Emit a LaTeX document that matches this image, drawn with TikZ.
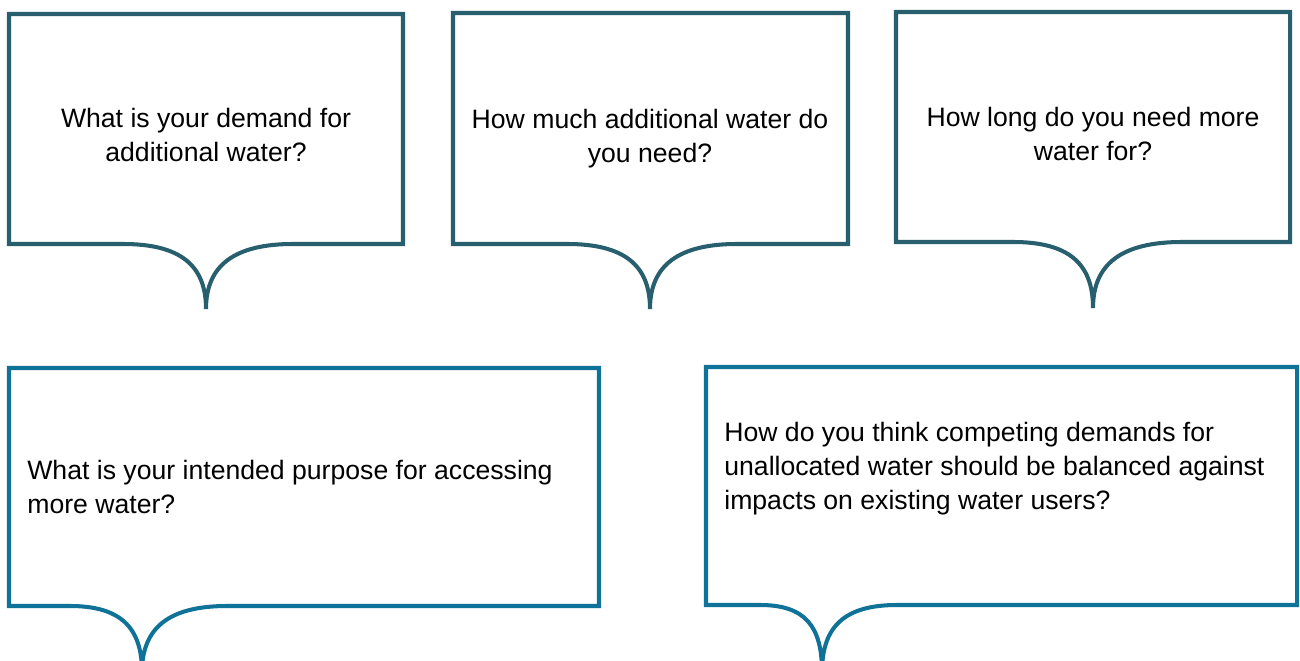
\documentclass[tikz,border=0pt]{standalone}
\usepackage{fontspec}
\setmainfont{Liberation Sans}
\usetikzlibrary{positioning,calc}
\definecolor{topteal}{HTML}{285F6F}
\definecolor{lowteal}{HTML}{0F7399}

\begin{document}
\begin{tikzpicture}[x=0.02cm,y=-0.02cm,
    bubble/.style={line width=2.3pt,line join=miter,fill=white},
    qtext/.style={font=\fontsize{15.15pt}{19.4pt}\selectfont,inner sep=0pt}]

    \useasboundingbox (0,0) rectangle (1300,661);

    % top row
    \draw[bubble,draw=topteal] (123,244) -- (9,244) -- (9,14) -- (403,14) -- (403,244) -- (293,244)
        .. controls (235,244) and (206,265) .. (206,309) coordinate (tip1)
        .. controls (206,265) and (180,244) .. cycle;
    \draw[bubble,draw=topteal] (567,244) -- (453,244) -- (453,13) -- (848,13) -- (848,244) -- (737,244)
        .. controls (679,244) and (650,265) .. (650,309) coordinate (tip2)
        .. controls (650,265) and (624,244) .. cycle;
    \draw[bubble,draw=topteal] (1013,242) -- (896,242) -- (896,12) -- (1290,12) -- (1290,242) -- (1182,242)
        .. controls (1123,242) and (1093,263) .. (1093,308) coordinate (tip3)
        .. controls (1093,263) and (1068,242) .. cycle;

    \node[qtext,align=center] (q1) at (206,135) {What is your demand for\\additional water?};
    \node[qtext,align=center] (q2) at (650,139) {How much additional water do\\you need?};
    \node[qtext,align=center] (q3) at (1093,134) {How long do you need more\\water for?};

    % bottom row
    \draw[bubble,draw=lowteal] (70,606) -- (9,606) -- (9,368) -- (599,368) -- (599,606) -- (227,606)
        .. controls (170,606) and (142,627) .. (142,672) coordinate (tip4)
        .. controls (142,627) and (120,606) .. cycle;
    \draw[bubble,draw=lowteal] (760,605) -- (706,605) -- (706,367) -- (1297,367) -- (1297,605) -- (897,605)
        .. controls (845,605) and (822,626) .. (822,672) coordinate (tip5)
        .. controls (822,626) and (805,605) .. cycle;

    \node[qtext,align=left,anchor=west] (q4) at (27,487) {What is your intended purpose for accessing\\more water?};
    \node[qtext,align=left,anchor=west] (q5) at (724,469) {How do you think competing demands for\\unallocated water should be balanced against\\impacts on existing water users?};

\end{tikzpicture}
\end{document}
